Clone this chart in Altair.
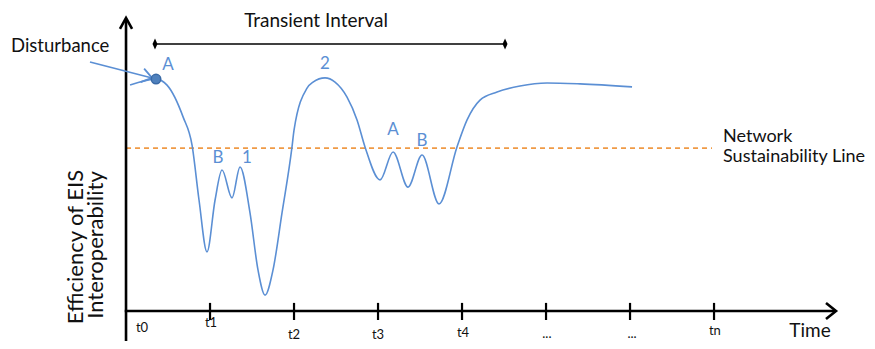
import altair as alt
import pandas as pd

# ---- data -------------------------------------------------------------
curve_t = [0.048, 0.357, 0.488, 0.679, 0.786, 0.869, 0.964, 1.060, 1.143, 1.262,
           1.357, 1.476, 1.571, 1.655, 1.750, 1.857, 1.976, 2.0, 2.155, 2.226,
           2.369, 2.488, 2.631, 2.75, 2.845, 3.024, 3.179, 3.357, 3.524, 3.726,
           3.940, 4.060, 4.214, 4.417, 4.69, 5.012, 5.405, 6.024]
curve_v = [75.3, 77.3, 75.3, 64.7, 55.3, 37.0, 19.7, 37.0, 47.0, 37.7,
           48.0, 32.7, 13.7, 5.3, 13.7, 32.7, 54.7, 60.3, 74.3, 76.3,
           77.7, 76.3, 71.3, 63.7, 54.7, 43.7, 53.0, 41.3, 52.0, 35.7,
           54.7, 63.7, 70.3, 73.0, 75.0, 76.0, 75.7, 74.7]

sustain_level = 54.3
sustain_t = [0.0, 6.976]

tick_t = [1, 2, 3, 4, 5, 6, 7]
tick_labels = ["t0", "t1", "t2", "t3", "t4", "...", "...", "tn"]
tick_label_t = [0.19, 1.012, 2.0, 3.0, 4.012, 5.01, 6.024, 7.01]
tick_label_v = [-7.0, -5.3, -9.3, -9.3, -8.7, -9.0, -9.0, -8.0]

point_labels = ["A", "B", "1", "2", "A", "B"]
point_label_t = [0.5, 1.095, 1.44, 2.369, 3.179, 3.524]
point_label_v = [80.3, 49.3, 49.3, 80.7, 58.7, 55.0]

disturbance_t, disturbance_v = 0.357, 77.3
interval_t = [0.345, 4.512]
interval_v = 89.0

# ---- scales -----------------------------------------------------------
xs = alt.Scale(domain=[-1.405, 8.821], nice=False, zero=False)
ys = alt.Scale(domain=[-10, 101], nice=False, zero=False)
FONT = "Lato"
BLUE = "#5B8FD4"
ORANGE = "#F09A45"


def X(f="t"):
    return alt.X(f"{f}:Q", scale=xs, axis=None)


def Y(f="v"):
    return alt.Y(f"{f}:Q", scale=ys, axis=None)


# sustainability line
sus_df = pd.DataFrame({"t": sustain_t, "v": [sustain_level] * 2})
sustain = alt.Chart(sus_df).mark_line(color=ORANGE, strokeDash=[5, 4], strokeWidth=1.6).encode(x=X(), y=Y())

# axes
axes_df = pd.DataFrame({"t": [0.0, -0.015], "t2": [0.0, 8.44], "v": [-10.0, 0.0], "v2": [97.3, 0.0]})
axes = alt.Chart(axes_df).mark_rule(color="black", strokeWidth=2.6).encode(
    x=X(), x2="t2:Q", y=Y(), y2="v2:Q")

ticks_df = pd.DataFrame({"t": tick_t, "v": [2.7] * len(tick_t), "v2": [-3.0] * len(tick_t)})
ticks = alt.Chart(ticks_df).mark_rule(color="black", strokeWidth=2.2).encode(x=X(), y=Y(), y2="v2:Q")

arrow_up = alt.Chart(pd.DataFrame({"t": [0.0], "v": [97.7]})).mark_point(
    shape="M-0.55,1L0,0L0.55,1", filled=False, color="black", strokeWidth=2.6,
    size=484, opacity=1).encode(x=X(), y=Y())
arrow_right = alt.Chart(pd.DataFrame({"t": [8.452], "v": [0.0]})).mark_point(
    shape="M-1,-0.8L0,0L-1,0.8", filled=False, color="black", strokeWidth=2.6,
    size=400, opacity=1).encode(x=X(), y=Y())

# curve
curve_df = pd.DataFrame({"t": curve_t, "v": curve_v})
curve = alt.Chart(curve_df).mark_line(color=BLUE, strokeWidth=1.6, interpolate="monotone").encode(x=X(), y=Y())

# disturbance arrow
darrow_df = pd.DataFrame({"t": [-0.429], "t2": [0.31], "v": [83.0], "v2": [77.7]})
darrow = alt.Chart(darrow_df).mark_rule(color=BLUE, strokeWidth=1.6).encode(x=X(), x2="t2:Q", y=Y(), y2="v2:Q")
dhead = alt.Chart(pd.DataFrame({"t": [0.31], "v": [77.7]})).mark_point(
    shape="M-1,-0.7L0,0L-1,0.7", filled=False, color=BLUE, strokeWidth=1.8,
    size=400, angle=14.5, opacity=1).encode(x=X(), y=Y())

dot = alt.Chart(pd.DataFrame({"t": [disturbance_t], "v": [disturbance_v]})).mark_point(
    filled=True, size=90, fill="#4F81BD", stroke="#3A6AA6", strokeWidth=1.5, opacity=1).encode(x=X(), y=Y())

# transient interval
int_df = pd.DataFrame({"t": [interval_t[0]], "t2": [interval_t[1]], "v": [interval_v]})
interval = alt.Chart(int_df).mark_rule(color="black", strokeWidth=1.6).encode(x=X(), x2="t2:Q", y=Y())
diamonds = alt.Chart(pd.DataFrame({"t": interval_t, "v": [interval_v] * 2})).mark_point(
    shape="M0,-1L0.45,0L0,1L-0.45,0Z", filled=True, color="black", size=121, opacity=1).encode(x=X(), y=Y())

# texts
tl_df = pd.DataFrame({"t": tick_label_t, "v": tick_label_v, "label": tick_labels})
tick_text = alt.Chart(tl_df).mark_text(font=FONT, fontSize=13, color="#111", align="center",
                                       baseline="alphabetic").encode(x=X(), y=Y(), text="label:N")

pl_df = pd.DataFrame({"t": point_label_t, "v": point_label_v, "label": point_labels})
point_text = alt.Chart(pl_df).mark_text(font=FONT, fontSize=17, color=BLUE, align="center",
                                        baseline="alphabetic").encode(x=X(), y=Y(), text="label:N")

dist_text = alt.Chart(pd.DataFrame({"t": [-1.369], "v": [86.3], "label": ["Disturbance"]})).mark_text(
    font=FONT, fontSize=18.5, color="#111", align="left", baseline="alphabetic").encode(x=X(), y=Y(), text="label:N")

net_text = alt.Chart(pd.DataFrame({"t": [7.107, 7.107], "v": [56.3, 49.7],
                                   "label": ["Network", "Sustainability Line"]})).mark_text(
    font=FONT, fontSize=18, color="#111", align="left", baseline="alphabetic").encode(x=X(), y=Y(), text="label:N")

trans_text = alt.Chart(pd.DataFrame({"t": [2.262], "v": [94.7], "label": ["Transient Interval"]})).mark_text(
    font=FONT, fontSize=19, color="#111", align="center", baseline="alphabetic").encode(x=X(), y=Y(), text="label:N")

time_text = alt.Chart(pd.DataFrame({"t": [8.143], "v": [-8.67], "label": ["Time"]})).mark_text(
    font=FONT, fontSize=19, color="#111", align="center", baseline="alphabetic").encode(x=X(), y=Y(), text="label:N")

ytitle_df = pd.DataFrame({"t": [-0.512, -0.274], "v": [21.3, 22.0],
                          "label": ["Efficiency of EIS", "Interoperability"]})
ytitle = alt.Chart(ytitle_df).mark_text(font=FONT, fontSize=22, color="#111", align="center",
                                        baseline="alphabetic", angle=270).encode(x=X(), y=Y(), text="label:N")

chart = alt.layer(
    sustain, axes, ticks, arrow_up, arrow_right, curve, darrow, dhead, dot,
    interval, diamonds, tick_text, point_text, dist_text, net_text, trans_text, time_text, ytitle
).properties(
    width=859, height=333, autosize=alt.AutoSizeParams(type="none"), padding=0
).configure_view(stroke=None)

chart.save("out.html", embed_options={"renderer": "svg", "actions": False})
